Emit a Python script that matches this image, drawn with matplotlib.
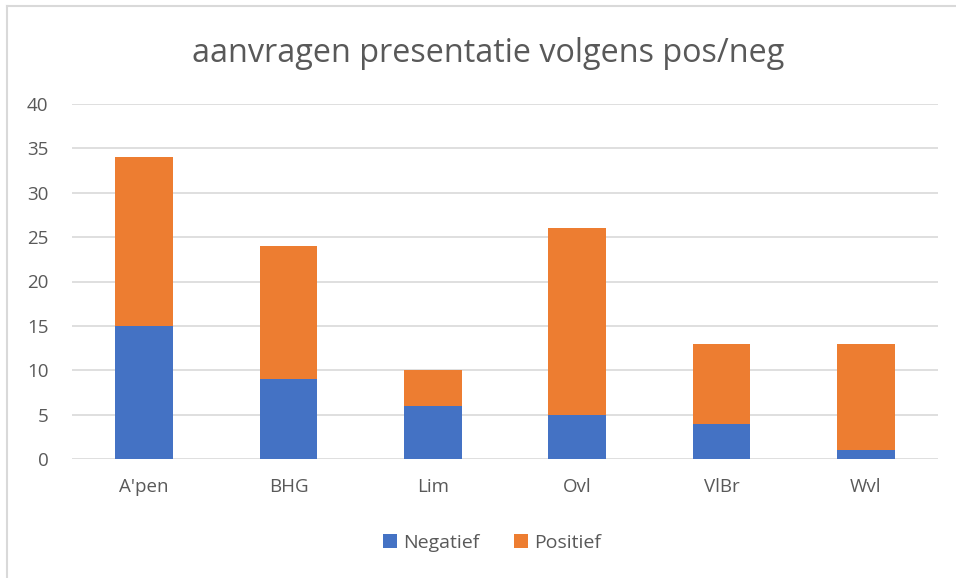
import matplotlib.pyplot as plt
from matplotlib.lines import Line2D
import numpy as np

regios = ["A'pen", "BHG", "Lim", "Ovl", "VlBr", "Wvl"]
negatief = [15, 9, 6, 5, 4, 1]
positief = [19, 15, 4, 21, 9, 12]

blauw = '#4472C4'
oranje = '#ED7D31'
grijs = '#595959'

plt.rcParams['font.family'] = ['Open Sans', 'DejaVu Sans']

fig = plt.figure(figsize=(9.56, 5.78), dpi=100)
ax = fig.add_axes([72 / 956, 1 - 459 / 578, 866 / 956, 355 / 578])

x = np.arange(len(regios))
ax.bar(x, negatief, 0.4, color=blauw, label='Negatief', zorder=3)
ax.bar(x, positief, 0.4, bottom=negatief, color=oranje, label='Positief', zorder=3)

ax.set_xlim(-0.5, len(regios) - 0.5)
ax.set_ylim(0, 40)
ax.set_yticks(range(0, 41, 5))
ax.set_xticks(x)
ax.set_xticklabels(regios)
ax.yaxis.grid(True, color='#D9D9D9', linewidth=1.2, zorder=0)
for s in ax.spines.values():
    s.set_visible(False)
ax.tick_params(length=0, labelsize=13.5, labelcolor=grijs)
ax.tick_params(axis='x', pad=14)
ax.tick_params(axis='y', pad=17)

fig.text(488 / 956, 1 - 53 / 578, 'aanvragen presentatie volgens pos/neg', ha='center', va='center',
         fontsize=23.3, color=grijs)

ax.legend(loc='center', bbox_to_anchor=((492 - 72) / 866, (459 - 543) / 355), ncol=2, frameon=False,
          fontsize=14, labelcolor=grijs, handlelength=0.7, handleheight=0.7,
          handletextpad=0.3, columnspacing=1.8)

# rand van het diagram
fig.add_artist(Line2D([7 / 956, 1], [1 - 6 / 578] * 2, color='#D9D9D9', linewidth=1.5))
fig.add_artist(Line2D([7 / 956] * 2, [0, 1 - 6 / 578], color='#D9D9D9', linewidth=1.5))

fig.savefig('out.png', dpi=100)
